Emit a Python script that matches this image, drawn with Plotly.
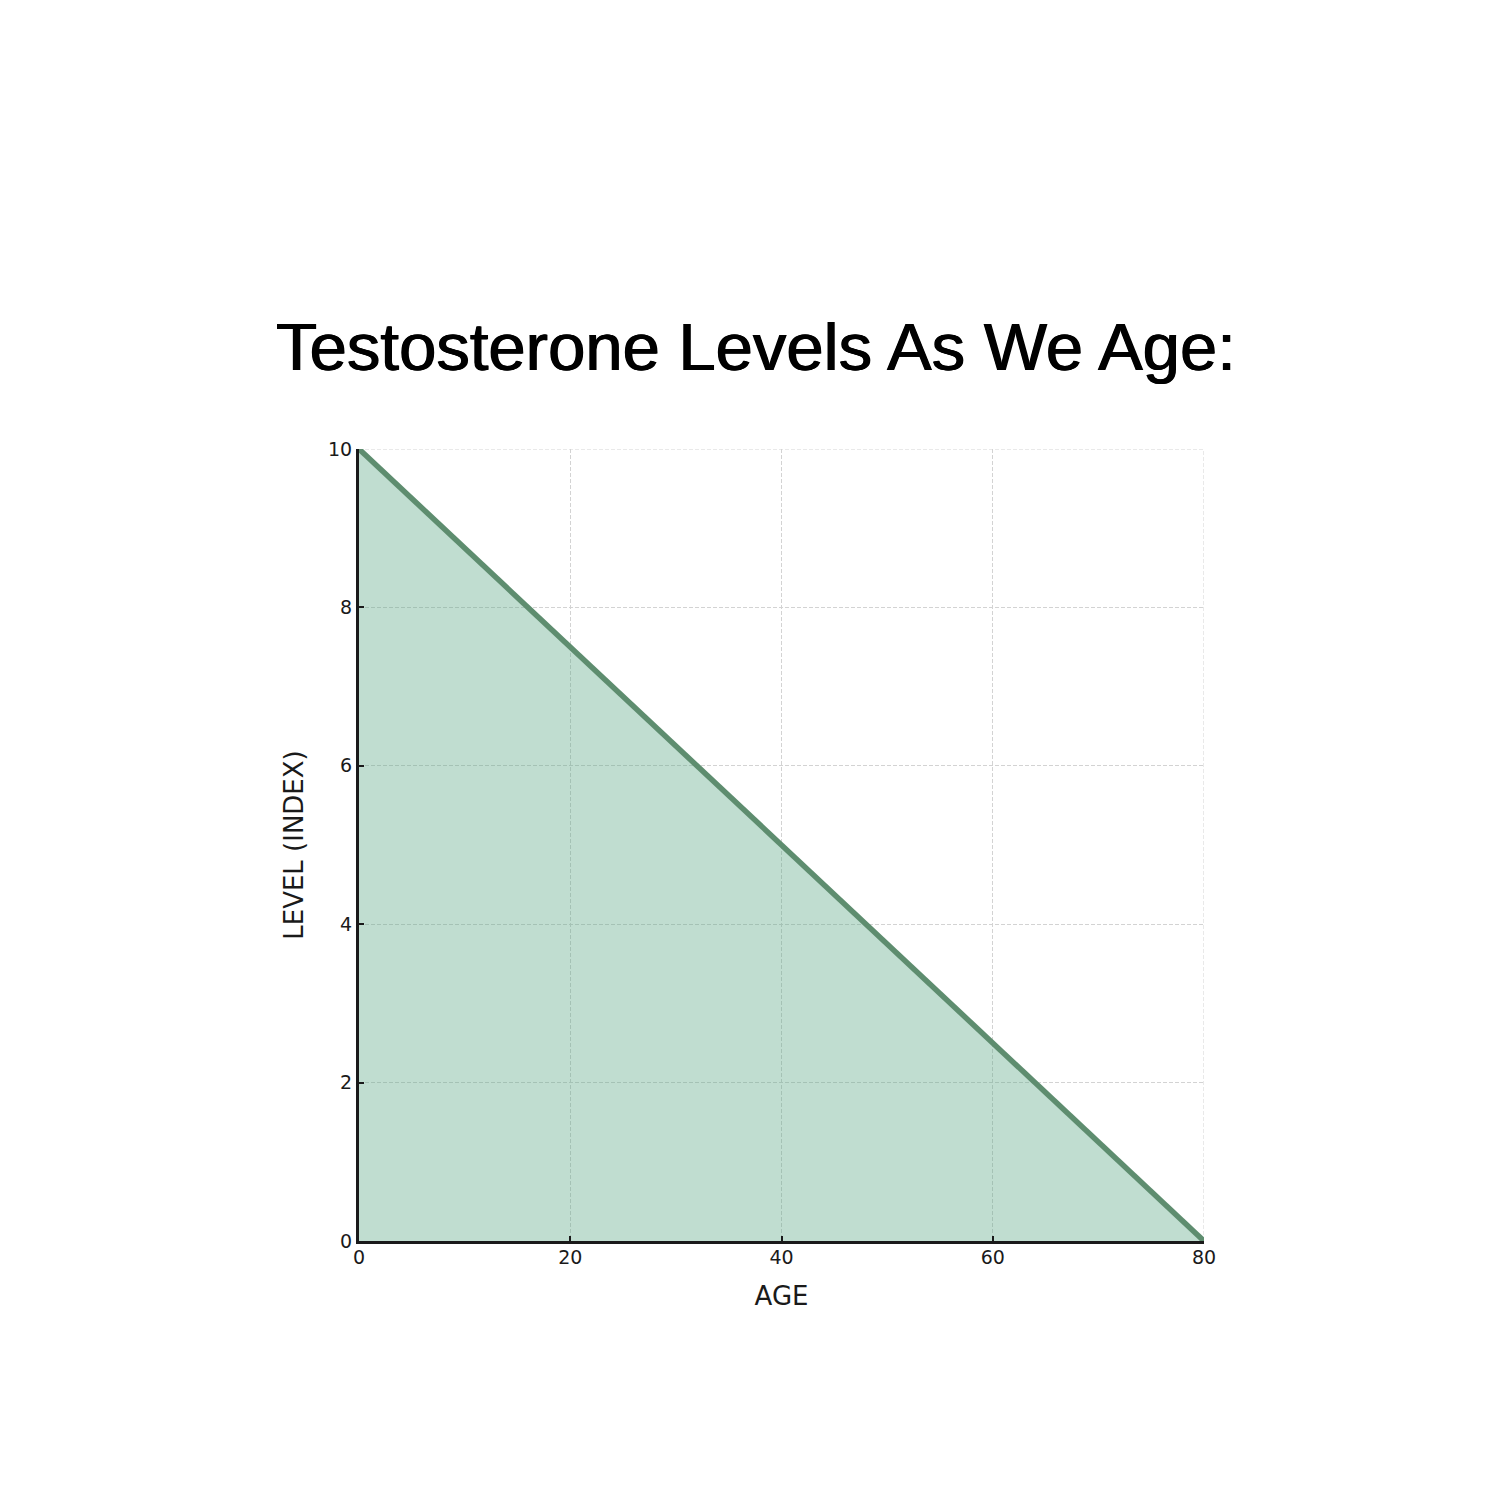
import plotly.graph_objects as go

ages = [0, 20, 40, 60, 80]
levels = [10, 7.5, 5, 2.5, 0]
x_ticks = [0, 20, 40, 60, 80]
y_ticks = [0, 2, 4, 6, 8, 10]

fig = go.Figure()
fig.add_trace(go.Scatter(
    x=ages, y=levels, mode="lines", fill="tozeroy",
    fillcolor="rgba(97,170,137,0.40)",
    line=dict(color="#5e8d6f", width=5.5),
    showlegend=False, hoverinfo="skip",
))

grid_color = "#d3d3d3"
axis_common = dict(
    showgrid=True, gridcolor=grid_color, gridwidth=1, griddash="4px,2px",
    showline=True, linecolor="#1a1a1a", linewidth=3,
    ticks="inside", ticklen=5, tickwidth=2, tickcolor="#1a1a1a",
    zeroline=False, mirror=False,
    tickfont=dict(family="DejaVu Sans", size=19, color="#1a1a1a"),
)

fig.update_xaxes(range=[0, 80], tickvals=x_ticks, ticklabelstandoff=-3, **axis_common,
                 title=dict(text="AGE", font=dict(family="DejaVu Sans", size=26, color="#1a1a1a"), standoff=21))
fig.update_yaxes(range=[0, 10], tickvals=y_ticks, **axis_common,
                 title=dict(text="LEVEL (INDEX)", font=dict(family="DejaVu Sans", size=26, color="#1a1a1a"), standoff=17))

# edge gridlines (top at y=10, right at x=80)
fig.add_shape(type="line", xref="x", yref="y", x0=x_ticks[0], x1=x_ticks[-1], y0=y_ticks[-1], y1=y_ticks[-1],
              line=dict(color=grid_color, width=1, dash="4px,2px"), layer="below")
fig.add_shape(type="line", xref="x", yref="y", x0=x_ticks[-1], x1=x_ticks[-1], y0=y_ticks[0], y1=y_ticks[-1],
              line=dict(color=grid_color, width=1, dash="4px,2px"), layer="below")

fig.update_layout(
    width=1500, height=1500,
    margin=dict(l=351, r=304, t=441, b=267),
    plot_bgcolor="white", paper_bgcolor="white",
    title=dict(text="Testosterone Levels As We Age:", x=0.4987, xanchor="center",
               y=1 - 339/1500, yanchor="middle",
               font=dict(family="Liberation Sans", size=67, color="#000000",
                         shadow="0.6px 0 0 #000, -0.6px 0 0 #000")),
)

fig.write_html("out.html")
